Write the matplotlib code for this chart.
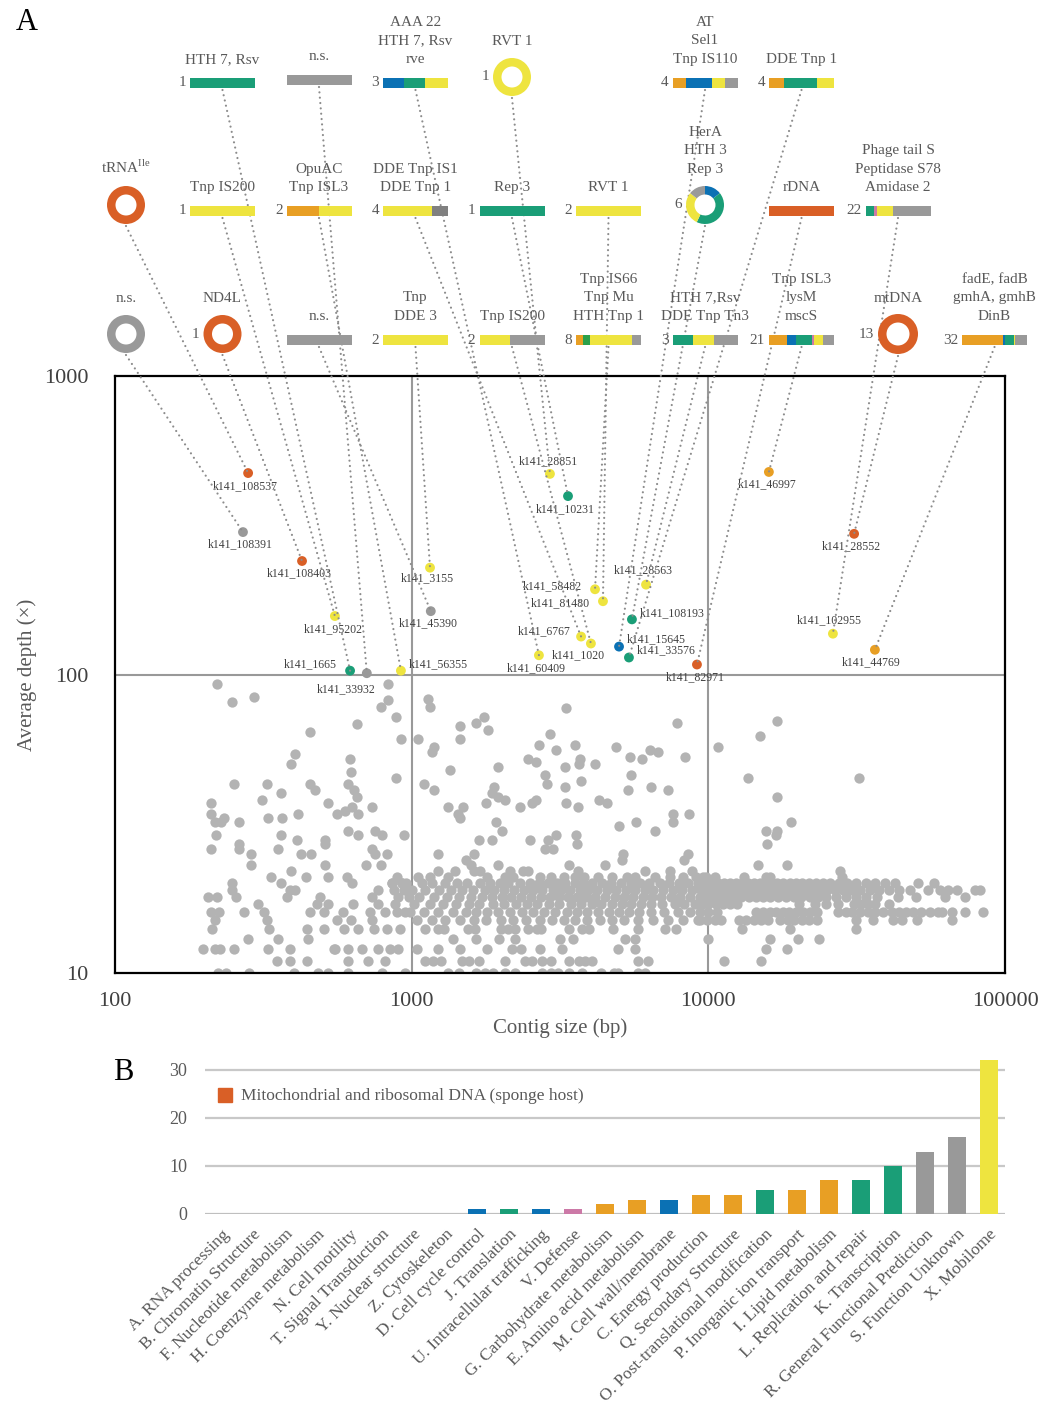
import matplotlib
matplotlib.use('Agg')
import matplotlib.pyplot as plt
from matplotlib.patches import Rectangle, Wedge, ConnectionPatch

plt.rcParams['font.family'] = ['Liberation Serif', 'DejaVu Serif']
plt.rcParams['mathtext.fontset'] = 'custom'
plt.rcParams['mathtext.rm'] = 'Liberation Serif'

COL = {'mito': '#D95F26', 'orange': '#E89F24', 'blue': '#0B71B4', 'green': '#1A9E77',
       'dgreen': '#2BA04A', 'yellow': '#EEE43F', 'grey': '#999999', 'dgrey': '#808080',
       'pink': '#CC79A7'}
TXT = '#595959'

# ---- labelled contigs (panel A) ----
pt_name = ['k141_108537', 'k141_108391', 'k141_108403', 'k141_95202', 'k141_1665',
           'k141_33932', 'k141_56355', 'k141_3155', 'k141_45390', 'k141_28851',
           'k141_10231', 'k141_58482', 'k141_81480', 'k141_6767', 'k141_1020',
           'k141_60409', 'k141_28563', 'k141_108193', 'k141_15645', 'k141_33576',
           'k141_82971', 'k141_46997', 'k141_28552', 'k141_102955', 'k141_44769']
pt_size = [281, 270, 427, 551, 620, 706, 920, 1153, 1160, 2925, 3365, 4150, 4414, 3724,
           4020, 2685, 6165, 5527, 5000, 5400, 9155, 16000, 31000, 26300, 36430]
pt_depth = [473, 300, 240, 157, 103, 101, 103, 228, 163, 470, 396, 193, 176, 134, 127,
            116, 200, 153, 124, 114, 108, 477, 296, 137, 121]
pt_color = ['mito', 'grey', 'mito', 'yellow', 'green', 'grey', 'yellow', 'yellow', 'grey',
            'yellow', 'green', 'yellow', 'yellow', 'yellow', 'yellow', 'yellow', 'yellow',
            'green', 'blue', 'green', 'mito', 'orange', 'mito', 'yellow', 'orange']
# label offsets (pixels, right / down) and alignment
pt_off = [(-3, 13), (-3, 12), (-3, 12), (-2, 13), (-13, -6), (-21, 16), (8, -6), (-3, 11),
          (-2, 12), (-2, -13), (-3, 13), (-13, -3), (-13, 2), (-10, -5), (-13, 12), (-3, 13),
          (-3, -14), (8, -6), (8, -7), (8, -7), (-2, 13), (-2, 12), (-3, 12), (-4, -14), (-4, 12)]
pt_ha = ['center', 'center', 'center', 'center', 'right', 'center', 'left', 'center',
         'center', 'center', 'center', 'right', 'right', 'right', 'center', 'center',
         'center', 'left', 'left', 'left', 'center', 'center', 'center', 'center', 'center']

# ---- gene glyphs above panel A ----
gl_label = ['HTH 7, Rsv', 'n.s.', 'AAA 22\nHTH 7, Rsv\nrve', 'RVT 1', 'AT\nSel1\nTnp IS110',
            'DDE Tnp 1',
            'tRNA$^{\\mathregular{Ile}}$', 'Tnp IS200', 'OpuAC\nTnp ISL3', 'DDE Tnp IS1\nDDE Tnp 1',
            'Rep 3', 'RVT 1', 'HerA\nHTH 3\nRep 3', 'rDNA', 'Phage tail S\nPeptidase S78\nAmidase 2',
            'n.s.', 'ND4L', 'n.s.', 'Tnp\nDDE 3', 'Tnp IS200', 'Tnp IS66\nTnp Mu\nHTH Tnp 1',
            'HTH 7,Rsv\nDDE Tnp Tn3', 'Tnp ISL3\nlysM\nmscS', 'mtDNA',
            'fadE, fadB\ngmhA, gmhB\nDinB']
gl_count = [1, None, 3, 1, 4, 4,
            None, 1, 2, 4, 1, 2, 6, None, 22,
            None, 1, None, 2, 2, 8, 3, 21, 13, 32]
gl_shape = ['bar', 'bar', 'bar', 'ring', 'bar', 'bar',
            'ring', 'bar', 'bar', 'bar', 'bar', 'bar', 'ring', 'bar', 'bar',
            'ring', 'ring', 'bar', 'bar', 'bar', 'bar', 'bar', 'bar', 'ring', 'bar']
gl_col = [1, 2, 3, 4, 6, 7,
          0, 1, 2, 3, 4, 5, 6, 7, 8,
          0, 1, 2, 3, 4, 5, 6, 7, 8, 9]
gl_row = [0] * 6 + [1] * 9 + [2] * 10
gl_parts = [['green'], ['grey'], ['blue', 'green', 'yellow'], ['yellow'],
            ['orange', 'blue', 'yellow', 'grey'], ['orange', 'green', 'yellow'],
            ['mito'], ['yellow'], ['orange', 'yellow'], ['yellow', 'dgrey'], ['green'],
            ['yellow'], ['blue', 'green', 'yellow', 'grey'], ['mito'],
            ['green', 'pink', 'yellow', 'grey'],
            ['grey'], ['mito'], ['grey'], ['yellow'], ['yellow', 'grey'],
            ['orange', 'dgreen', 'yellow', 'grey'], ['green', 'yellow', 'grey'],
            ['orange', 'blue', 'green', 'pink', 'yellow', 'grey'], ['mito'],
            ['orange', 'blue', 'green', 'yellow', 'grey']]
gl_weights = [[1], [1], [1, 1, 1.1], [1], [1, 2, 1, 1], [1, 2.2, 1.1],
              [1], [1], [1, 1], [3, 1], [1], [1], [1, 3, 2, 1], [1], [8, 3, 16, 38],
              [1], [1], [1], [1], [1, 1.1], [7, 7, 41, 9], [1, 1, 1.1], [18, 9, 16, 2, 9, 11],
              [1], [40, 2, 9, 1, 12]]
gl_contig = ['k141_1665', 'k141_33932', 'k141_60409', 'k141_28851', 'k141_15645', 'k141_33576',
             'k141_108537', 'k141_95202', 'k141_56355', 'k141_6767', 'k141_10231', 'k141_81480',
             'k141_108193', 'k141_82971', 'k141_102955',
             'k141_108391', 'k141_108403', 'k141_45390', 'k141_3155', 'k141_1020', 'k141_58482',
             'k141_28563', 'k141_46997', 'k141_28552', 'k141_44769']

# ---- unlabelled contigs (grey cloud) ----
sp_left_size = [221, 248, 294, 832, 832, 787, 885, 654, 454, 922, 404, 620, 392, 626, 885, 251,
                325, 454, 610, 472, 362, 640, 313, 654, 211, 522, 733, 211, 560, 595, 628, 660,
                233, 217, 228, 262, 327, 365, 414, 219, 362, 410, 510, 610, 660, 750, 792, 940,
                211, 262, 262, 287, 354, 423, 459, 510, 733, 750, 823, 287, 510, 700, 787, 335,
                392, 440, 522, 605, 628, 248, 248, 362, 389, 404, 206, 221, 256, 380, 490, 860,
                890, 925, 900, 733, 770, 211, 224, 272, 303, 318, 454, 478, 522, 588, 636, 723,
                770, 810, 890, 950, 217, 325, 505, 560, 624, 733, 590, 660, 823, 910, 212, 330,
                354, 443, 505, 745, 281, 389, 447, 328, 217, 198, 226, 251, 546, 610, 680, 770,
                845, 351, 389, 443, 483, 551, 610, 714, 810, 900, 222, 236, 282, 401, 522, 610,
                792, 950]
sp_left_depth = [93, 81, 84, 93, 82, 78, 72, 68, 64, 61, 54, 52, 50, 47, 45, 43, 43, 43, 43, 41,
                 40, 41, 38, 39, 37, 37, 36, 34, 34, 35, 36, 34, 33, 32, 32, 32, 33, 33, 34, 29,
                 29, 28, 28, 30, 29, 30, 29, 29, 26, 27, 26, 25, 26, 25, 25, 27, 26, 25, 25, 23,
                 23, 23, 23, 21, 22, 21, 21, 21, 20, 20, 19, 20, 19, 19, 18, 18, 18, 18, 18, 20,
                 21, 20, 18, 18, 19, 16, 16, 16, 17, 16, 16, 17, 17, 16, 17, 16, 17, 16, 16, 16,
                 15, 15, 16, 15, 15, 15, 14, 14, 14, 14, 14, 14, 13, 14, 14, 14, 13, 12, 13, 12,
                 12, 12, 12, 12, 12, 12, 12, 12, 12, 11, 11, 11, 10, 12, 11, 11, 11, 12, 10, 10,
                 10, 10, 10, 10, 10, 10]
sp_mid_size = [1135, 1150, 3310, 1753, 1648, 1456, 1815, 7830, 1050, 1456, 2925, 1190, 1170,
               2685, 3060, 3550, 4890, 6355, 6765, 5445, 5975, 8340, 2466, 2630, 3690, 3660,
               4150, 3290, 1954, 1346, 2812, 5480, 1100, 1190, 1893, 2850, 3290, 3720, 6410,
               5355, 7310, 1860, 1954, 2060, 1785, 2540, 2620, 4275, 4540, 1330, 1495, 1430,
               1456, 2318, 3310, 3630, 7600, 7600, 8600, 1920, 2020, 5000, 5700, 6600, 1680,
               1870, 2500, 2870, 3060, 2812, 2990, 3580, 3610, 1225, 1620, 1520, 5170, 5130,
               8540, 8300]
sp_mid_depth = [83, 78, 77, 72, 69, 67, 65, 69, 61, 61, 63, 57, 55, 58, 56, 58, 57, 56, 55, 53,
                52, 53, 52, 51, 52, 50, 50, 49, 49, 48, 46, 46, 43, 41, 42, 43, 42, 44, 42, 41,
                41, 40, 39, 38, 37, 37, 38, 38, 37, 36, 36, 34, 33, 36, 37, 36, 34, 32, 34, 32,
                30, 31, 32, 30, 28, 28, 28, 28, 29, 26, 26, 29, 27, 25, 25, 24, 25, 24, 25, 24]
sp_right_size = [17020, 14930, 10770, 13590, 32200, 17020, 18970, 15630, 17020, 16850, 15750,
                 18400, 14690, 27800, 28200]
sp_right_depth = [70, 62, 57, 45, 45, 39, 32, 30, 30, 29, 27, 23, 23, 22, 21]

# dense band: contig sizes found at each (integer) depth
band_23 = [1590, 1960, 3380, 4480]
band_22 = [1230, 1400, 1620, 1700, 2150, 2380, 2460, 3640, 6115, 7450, 8830]
band_21 = [1050, 1150, 1330, 1800, 2060, 2200, 2700, 2950, 3250, 3550, 3800, 4250, 4720, 5300,
           5650, 6600, 7400, 8200, 9100, 9600, 9800, 10500, 13200, 15700, 16100]
band_20 = [860, 925, 960, 1080, 1170, 1300, 1420, 1540, 1700, 1830, 1990, 2120, 2310, 2500,
           2680, 2870, 3080, 3300, 3560, 3790, 4060, 4390, 4710, 5080, 5480, 5900, 6330, 6850,
           7350, 7950, 8550, 9250, 9500, 9900, 10300, 10800, 11300, 11800, 12400, 13000, 13600,
           14200, 14900, 15600, 16300, 17100, 17900, 18800, 19700, 20700, 21800, 23000, 24300,
           25800, 27500, 29400, 31500, 34000, 36500, 39500, 42500, 51000, 57500]
band_19 = [870, 940, 1000, 1110, 1240, 1360, 1480, 1610, 1760, 1900, 2040, 2210, 2390, 2570,
           2760, 2990, 3190, 3420, 3680, 3930, 4230, 4560, 4900, 5270, 5660, 6100, 6520, 7050,
           7600, 8150, 8800, 9450, 9600, 10100, 10600, 11100, 11600, 12200, 12800, 13400, 14000,
           14700, 15400, 16100, 16900, 17700, 18600, 19500, 20500, 21500, 22600, 23800, 25100,
           26700, 28400, 30300, 32500, 35000, 37500, 40500, 44000, 48000, 55000, 60500, 64000,
           69000, 79000, 82500]
band_18 = [980, 1060, 1190, 1320, 1440, 1580, 1720, 1860, 2010, 2160, 2330, 2520, 2720, 2930,
           3140, 3370, 3610, 3870, 4160, 4490, 4830, 5200, 5580, 6000, 6450, 6950, 7500, 8050,
           8700, 9350, 9700, 10200, 10900, 11500, 12100, 12900, 13700, 14500, 15300, 16200,
           17200, 18300, 19400, 20600, 22000, 23500, 25000, 27000, 29000, 31500, 34000, 37000,
           43500, 50000, 63000, 73500]
band_17 = [880, 1020, 1150, 1280, 1410, 1560, 1690, 1880, 2050, 2250, 2440, 2650, 2900, 3150,
           3450, 3720, 4050, 4350, 4720, 5100, 5500, 5950, 6400, 7000, 7700, 8300, 9000, 9500,
           10000, 10600, 11200, 11800, 12500, 20200, 22800, 25000, 27300, 31000, 32800, 34500,
           36500, 40500]
band_16 = [990, 1100, 1230, 1380, 1520, 1650, 1800, 1960, 2140, 2350, 2560, 2790, 3050, 3330,
           3600, 3900, 4250, 4620, 5000, 5420, 5850, 6400, 7100, 7900, 8700, 9400, 10000, 10700,
           14500, 15300, 16100, 16900, 17800, 18700, 19700, 20800, 22000, 23300, 27400, 29000,
           30600, 32500, 34500, 36500, 38800, 41500, 44000, 46500, 49000, 52000, 56000, 59500,
           61500, 66500, 73500, 84500]
band_15 = [1040, 1170, 1300, 1450, 1620, 1780, 2000, 2200, 2430, 2700, 2980, 3250, 3550, 3900,
           4300, 4750, 5200, 5800, 6500, 7300, 8200, 9200, 9400, 9900, 10500, 11000, 12700,
           13400, 14200, 15000, 15900, 17500, 18500, 19500, 20700, 21900, 23200, 31500, 35800,
           42000, 45000, 50500, 66500]
band_14 = [1110, 1230, 1290, 1550, 1630, 2000, 2110, 2230, 2460, 2640, 2720, 3390, 3750, 3950,
           4770, 5790, 7140, 7800, 13000, 18800, 31500]
band_13 = [1380, 1650, 1970, 2230, 3160, 3500, 5240, 5660, 9950, 16150, 20000, 23600]
band_12 = [1040, 1230, 1450, 1790, 2180, 2330, 2700, 3200, 4960, 5660, 15700, 18400]
band_11 = [1110, 1180, 1260, 1480, 1560, 1680, 2060, 2410, 2540, 2740, 2960, 3380, 3660, 3840,
           4040, 5800, 6260, 11250, 15000]
band_10 = [1330, 1440, 1650, 1760, 1880, 2060, 2230, 2760, 2960, 3120, 3380, 3750, 4360, 4800,
           4960, 5800, 6100]

# ---- panel B ----
cog_names = ['A. RNA processing', 'B. Chromatin Structure', 'F. Nucleotide metabolism',
             'H. Coenzyme metabolism', 'N. Cell motility', 'T. Signal Transduction',
             'Y. Nuclear structure', 'Z. Cytoskeleton', 'D. Cell cycle control', 'J. Translation',
             'U. Intracellular trafficking', 'V. Defense', 'G. Carbohydrate metabolism',
             'E. Amino acid metabolism', 'M. Cell wall/membrane', 'C. Energy production',
             'Q. Secondary Structure', 'O. Post-translational modification',
             'P. Inorganic ion transport', 'I. Lipid metabolism', 'L. Replication and repair',
             'K. Transcription', 'R. General Functional Prediction', 'S. Function Unknown',
             'X. Mobilome']
cog_counts = [0, 0, 0, 0, 0, 0, 0, 0, 1, 1, 1, 1, 2, 3, 3, 4, 4, 5, 5, 7, 7, 10, 13, 16, 32]
cog_colors = ['grey'] * 8 + ['blue', 'green', 'blue', 'pink', 'orange', 'orange', 'blue',
                             'orange', 'orange', 'green', 'orange', 'orange', 'green', 'green',
                             'grey', 'grey', 'yellow']

W, H = 1054, 1408
fig = plt.figure(figsize=(W / 100, H / 100), dpi=100)

# scatter panel
ax = fig.add_axes([115 / W, 1 - 973 / H, 890 / W, 597 / H])
ax.set_xscale('log')
ax.set_yscale('log')
ax.set_xlim(100, 100000)
ax.set_ylim(10, 1000)
grey_x = sp_left_size + sp_mid_size + sp_right_size
grey_y = sp_left_depth + sp_mid_depth + sp_right_depth
for d, row in [(23, band_23), (22, band_22), (21, band_21), (20, band_20), (19, band_19),
               (18, band_18), (17, band_17), (16, band_16), (15, band_15), (14, band_14),
               (13, band_13), (12, band_12), (11, band_11), (10, band_10)]:
    grey_x += row
    grey_y += [d] * len(row)
ax.scatter(grey_x, grey_y, s=55, color='#b3b3b3', lw=0, zorder=2)
ax.scatter(pt_size, pt_depth, s=50, color=[COL[c] for c in pt_color], lw=0, zorder=3)
for n, x, y, (dx, dy), ha in zip(pt_name, pt_size, pt_depth, pt_off, pt_ha):
    ax.annotate(n, (x, y), xytext=(dx, -dy), textcoords='offset pixels', ha=ha, va='center',
                fontsize=8.5, color='#404040', zorder=4)
ax.axvline(1000, color='#999999', lw=1.5, zorder=1)
ax.axvline(10000, color='#999999', lw=1.5, zorder=1)
ax.axhline(100, color='#999999', lw=1.5, zorder=1)
for s in ax.spines.values():
    s.set_linewidth(1.6)
    s.set_color('black')
    s.set_zorder(5)
ax.set_xticks([100, 1000, 10000, 100000])
ax.set_xticklabels(['100', '1000', '10000', '100000'])
ax.set_yticks([10, 100, 1000])
ax.set_yticklabels(['10', '100', '1000'])
ax.minorticks_off()
ax.tick_params(axis='both', length=0, labelsize=16, labelcolor='#404040')
ax.tick_params(axis='x', pad=14)
ax.tick_params(axis='y', pad=19)
ax.set_xlabel('Contig size (bp)', fontsize=15, color=TXT)
ax.set_ylabel('Average depth (\u00d7)', fontsize=15, color=TXT)
ax.xaxis.set_label_coords(0.5, -0.076)
ax.yaxis.set_label_coords(-0.088, 0.5)

# bar panel
bx = fig.add_axes([205 / W, 1 - 1214 / H, 800 / W, 153.6 / H])
bx.bar(range(len(cog_names)), cog_counts, width=0.56, color=[COL[c] for c in cog_colors],
       zorder=3)
bx.set_xlim(-0.5, len(cog_names) - 0.5)
bx.set_ylim(0, 32)
bx.set_yticks([0, 10, 20, 30])
bx.yaxis.grid(True, color='#c8c8c8', lw=1.6, zorder=0)
bx.set_axisbelow(True)
bx.axhline(0, color='#bdbdbd', lw=1.8, zorder=2)
for s in bx.spines.values():
    s.set_visible(False)
bx.set_xticks(range(len(cog_names)))
bx.set_xticklabels(cog_names, rotation=45, ha='right', rotation_mode='anchor')
bx.tick_params(axis='both', length=0, labelsize=12.5, labelcolor=TXT)
bx.tick_params(axis='x', pad=9)
bx.tick_params(axis='y', pad=13, labelsize=13)
bx.add_patch(Rectangle((0.016, 0.727), 0.0175, 0.091, transform=bx.transAxes,
                       color=COL['mito'], clip_on=False))
bx.text(0.045, 0.768, 'Mitochondrial and ribosomal DNA (sponge host)', transform=bx.transAxes,
        fontsize=12.5, color=TXT, va='center', ha='left')

# glyph overlay in pixel coordinates
gax = fig.add_axes([0, 0, 1, 1])
gax.set_xlim(0, W)
gax.set_ylim(H, 0)
gax.axis('off')
col_x0, col_dx = 126, 96.5
row_y = [83, 211, 340]
bar_w, bar_h = 65, 10
for i in range(len(gl_label)):
    cx = col_x0 + col_dx * gl_col[i]
    cy = row_y[gl_row[i]]
    tot = sum(gl_weights[i])
    if gl_shape[i] == 'bar':
        if gl_label[i] == 'n.s.' and gl_row[i] == 0:
            cy -= 3
        left = cx - bar_w / 2
        x = left
        for c, w in zip(gl_parts[i], gl_weights[i]):
            ww = bar_w * w / tot
            gax.add_patch(Rectangle((x, cy - bar_h / 2), ww, bar_h, color=COL[c], lw=0))
            x += ww
        lab_y = cy - 17
        start_y = cy + bar_h / 2 + 2
    else:
        cy -= 6
        r = 20 if gl_count[i] == 13 else 19
        left = cx - r
        a = 270
        for c, w in zip(gl_parts[i], gl_weights[i]):
            da = 360 * w / tot
            gax.add_patch(Wedge((cx, cy), r, a, a + da, width=8.5, color=COL[c], lw=0))
            a += da
        lab_y = cy - 29
        start_y = cy + r + 2
    if gl_count[i] is not None:
        gax.text(left - 4, cy, str(gl_count[i]), ha='right', va='center', fontsize=11,
                 color=TXT)
    gax.text(cx, lab_y, gl_label[i], ha='center', va='bottom', fontsize=11, color=TXT,
             linespacing=1.55)
    k = pt_name.index(gl_contig[i])
    con = ConnectionPatch(xyA=(cx, start_y), coordsA=gax.transData,
                          xyB=(pt_size[k], pt_depth[k]), coordsB=ax.transData,
                          color='#8c8c8c', lw=1.6, linestyle=(0, (0.01, 2.4)),
                          capstyle='round', zorder=1)
    gax.add_artist(con)

fig.text(27 / W, 1 - 22 / H, 'A', fontsize=22, ha='center', va='center')
fig.text(123 / W, 1 - 1072 / H, 'B', fontsize=22, ha='center', va='center')

fig.savefig('out.png', dpi=100)
